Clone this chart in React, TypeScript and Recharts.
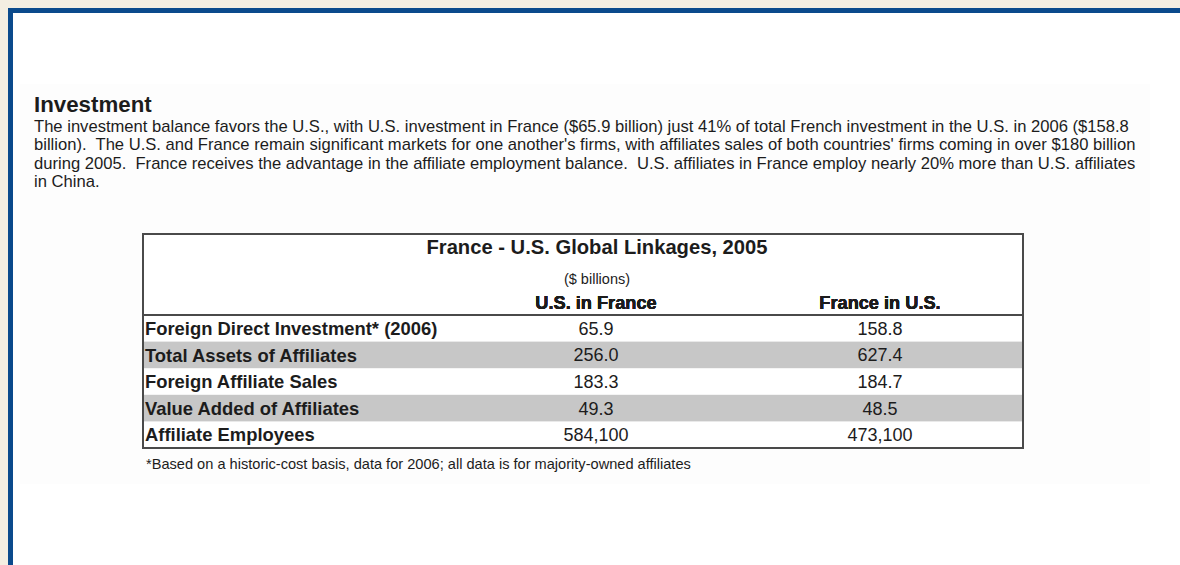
import React from 'react';
import { ScatterChart, Scatter, XAxis, YAxis, ReferenceArea } from 'recharts';

const heading = 'Investment';
const paragraphLines = [
  'The investment balance favors the U.S., with U.S. investment in France ($65.9 billion) just 41% of total French investment in the U.S. in 2006 ($158.8',
  "billion).  The U.S. and France remain significant markets for one another's firms, with affiliates sales of both countries' firms coming in over $180 billion",
  'during 2005.  France receives the advantage in the affiliate employment balance.  U.S. affiliates in France employ nearly 20% more than U.S. affiliates',
  'in China.',
];
const tableTitle = 'France - U.S. Global Linkages, 2005';
const tableUnit = '($ billions)';
const footnote = '*Based on a historic-cost basis, data for 2006; all data is for majority-owned affiliates';

const rowLabels = [
  'Foreign Direct Investment* (2006)',
  'Total Assets of Affiliates',
  'Foreign Affiliate Sales',
  'Value Added of Affiliates',
  'Affiliate Employees',
];
const columnLabels = ['U.S. in France', 'France in U.S.'];
const usInFrance = [65.9, 256.0, 183.3, 49.3, 584100];
const franceInUS = [158.8, 627.4, 184.7, 48.5, 473100];
const shadedRows = [rowLabels[1], rowLabels[3]];

const fmt = (v: number, i: number) =>
  i === rowLabels.length - 1 ? v.toLocaleString('en-US') : v.toFixed(1);

const cells = rowLabels.flatMap((row, i) => [
  { col: columnLabels[0], row, text: fmt(usInFrance[i], i) },
  { col: columnLabels[1], row, text: fmt(franceInUS[i], i) },
]);

const FONT = '"Liberation Sans", Arial, Helvetica, sans-serif';
const INK = '#1c1c1c';
const Y_AXIS_W = 312;

const CellText = (props: any) => {
  const { cx, cy, payload } = props;
  return (
    <text x={cx} y={cy} dy="0.36em" textAnchor="middle" fontFamily={FONT} fontSize={18} fill={INK}>
      {payload.text}
    </text>
  );
};

const RowTick = (props: any) => {
  const { x, y, payload } = props;
  return (
    <text x={x - Y_AXIS_W + 5} y={y} dy="0.36em" textAnchor="start" fontFamily={FONT} fontSize={18.4} fontWeight="bold" fill={INK}>
      {payload.value}
    </text>
  );
};

const ColTick = (props: any) => {
  const { x, y, payload } = props;
  return (
    <text x={x} y={y - 4} textAnchor="middle" fontFamily={FONT} fontSize={18.2} fontWeight="bold" fill={INK}>
      {payload.value}
    </text>
  );
};

const Stripe = (props: any) => {
  const { x, y, width, height } = props;
  return <rect x={x - Y_AXIS_W + 2} y={y} width={width + Y_AXIS_W - 2} height={height} fill="#c7c7c7" />;
};

const T = (p: { left?: number; top: number; size: number; bold?: boolean; children: React.ReactNode; center?: number }) => (
  <div
    style={{
      position: 'absolute',
      left: p.center !== undefined ? p.center - 300 : p.left,
      width: p.center !== undefined ? 600 : undefined,
      textAlign: p.center !== undefined ? 'center' : 'left',
      top: p.top,
      fontSize: p.size,
      lineHeight: 1,
      fontWeight: p.bold ? 'bold' : 'normal',
      fontFamily: FONT,
      color: INK,
      whiteSpace: 'pre',
    }}
  >
    {p.children}
  </div>
);

export default function App() {
  const lineBaselines = [133, 151.5, 170, 188];
  const paraSize = 16.6;
  return (
    <div style={{ position: 'absolute', left: 0, top: 0, width: 1180, height: 565, overflow: 'hidden', background: '#f4eee2' }}>
      <div style={{ position: 'absolute', left: 8, top: 8, width: 1172, height: 557, background: '#0b4a8c' }} />
      <div style={{ position: 'absolute', left: 13, top: 13, width: 1167, height: 552, background: '#ffffff' }} />
      <div style={{ position: 'absolute', left: 20, top: 84, width: 1130, height: 400, background: '#fdfdfd' }} />

      <T left={34} top={105 - 0.49 * 22.3} size={22.3} bold>{heading}</T>
      {paragraphLines.map((l, i) => (
        <T key={i} left={34} top={lineBaselines[i] - 0.85 * paraSize} size={paraSize}>{l}</T>
      ))}

      <div style={{ position: 'absolute', left: 142, top: 233, width: 882, height: 216, boxSizing: 'border-box', border: '2px solid #4a4a4a', background: '#fff' }} />

      <T center={597} top={254 - 0.85 * 20.2} size={20.2} bold>{tableTitle}</T>
      <T center={597} top={284.5 - 0.85 * 14.5} size={14.5}>{tableUnit}</T>

      <div style={{ position: 'absolute', left: 0, top: 0 }}>
        <ScatterChart width={1180} height={565} margin={{ top: 285, right: 158, bottom: 117, left: 142 }}>
          {shadedRows.map((r) => (
            <ReferenceArea key={r} y1={r} y2={r} shape={<Stripe />} ifOverflow="visible" />
          ))}
          <XAxis
            dataKey="col"
            type="category"
            scale="band"
            orientation="top"
            allowDuplicatedCategory={false}
            height={30}
            tickSize={0}
            axisLine={false}
            tickLine={false}
            tick={<ColTick />}
            interval={0}
          />
          <YAxis
            dataKey="row"
            type="category"
            scale="band"
            reversed
            allowDuplicatedCategory={false}
            width={Y_AXIS_W}
            tickSize={0}
            axisLine={false}
            tickLine={false}
            tick={<RowTick />}
            interval={0}
          />
          <Scatter data={cells} shape={<CellText />} isAnimationActive={false} />
        </ScatterChart>
      </div>

      <div style={{ position: 'absolute', left: 142, top: 314, width: 882, height: 2, background: '#4a4a4a' }} />

      <T left={146} top={469.5 - 0.85 * 14.6} size={14.6}>{footnote}</T>
    </div>
  );
}
